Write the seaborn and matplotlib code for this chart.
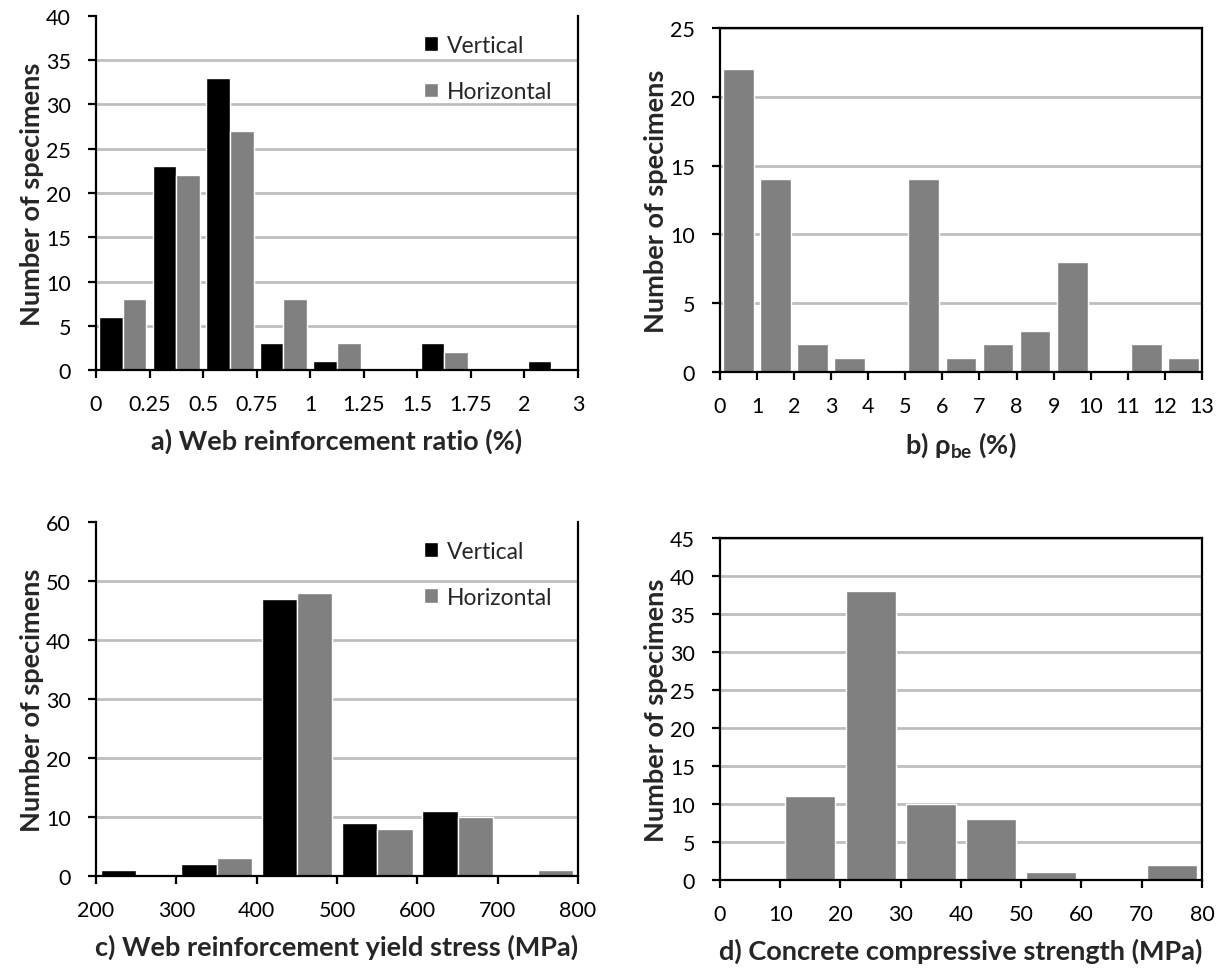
import numpy as np
import pandas as pd
import matplotlib
matplotlib.use("Agg")
import matplotlib.pyplot as plt
import seaborn as sns

# ---- data: specimen counts per bin ----
a_edges = ["0", "0.25", "0.5", "0.75", "1", "1.25", "1.5", "1.75", "2", "3"]
a_vertical = [6, 23, 33, 3, 1, 0, 3, 0, 1]
a_horizontal = [8, 22, 27, 8, 3, 0, 2, 0, 0]

b_edges = [str(v) for v in range(0, 14)]
b_counts = [22, 14, 2, 1, 0, 14, 1, 2, 3, 8, 0, 2, 1]

c_edges = ["200", "300", "400", "500", "600", "700", "800"]
c_vertical = [1, 2, 47, 9, 11, 0]
c_horizontal = [0, 3, 48, 8, 10, 1]

d_edges = ["0", "10", "20", "30", "40", "50", "60", "70", "80"]
d_counts = [0, 11, 38, 10, 8, 1, 0, 2]

series_names = ["Vertical", "Horizontal"]
BLACK = "#000000"
GRAY = "#808080"
GRID = "#BFBFBF"
TICK_FS = 15.5
LABEL_FS = 19.5
LEGEND_FS = 16.5

sns.set_theme(style="ticks")
plt.rcParams["font.family"] = ["Lato", "DejaVu Sans"]
plt.rcParams["mathtext.fontset"] = "custom"
plt.rcParams["mathtext.rm"] = "Lato"
plt.rcParams["mathtext.bf"] = "Lato:bold"


def bin_names(edges):
    return [f"{lo}-{hi}" for lo, hi in zip(edges[:-1], edges[1:])]


def long_frame(edges, vertical, horizontal):
    bins = bin_names(edges)
    return pd.DataFrame({
        "bin": bins * 2,
        "count": list(vertical) + list(horizontal),
        "series": [series_names[0]] * len(bins) + [series_names[1]] * len(bins),
    })


def style_axis(ax, edges, ymax, ystep, boxed, xlabel):
    n = len(edges) - 1
    ax.set_xlim(-0.5, n - 0.5)
    ax.set_xticks(np.arange(n + 1) - 0.5)
    ax.set_xticklabels(edges)
    ax.set_ylim(0, ymax)
    ax.set_yticks(np.arange(0, ymax + 0.1, ystep))
    ax.yaxis.grid(True, color=GRID, linewidth=2)
    ax.xaxis.grid(False)
    ax.set_axisbelow(True)
    if not boxed:
        ax.get_ygridlines()[-1].set_visible(False)
    for side in ["left", "bottom", "right"]:
        ax.spines[side].set_visible(True)
        ax.spines[side].set_color("black")
        ax.spines[side].set_linewidth(1.6)
    ax.spines["top"].set_visible(boxed)
    ax.spines["top"].set_color("black")
    ax.spines["top"].set_linewidth(1.6)
    ax.tick_params(axis="y", direction="out", length=6, width=1.6,
                   labelsize=TICK_FS, pad=12, left=True, right=False, colors="black")
    ax.tick_params(axis="x", direction="out", length=6, width=1.6,
                   labelsize=TICK_FS, pad=11, bottom=True, top=False, colors="black")
    ax.set_ylabel("Number of specimens", fontsize=LABEL_FS, fontweight="bold", labelpad=1.5)
    ax.set_xlabel(xlabel, fontsize=LABEL_FS, fontweight="bold", labelpad=10)


def add_legend(ax):
    handles, labels = ax.get_legend_handles_labels()
    ax.legend(handles, labels, loc="upper right", bbox_to_anchor=(0.99, 1.005),
              frameon=False, fontsize=LEGEND_FS, handlelength=0.62, handleheight=0.62,
              handletextpad=0.4, labelspacing=1.1)


fig = plt.figure(figsize=(12.19, 9.70), dpi=100)
ax_a = fig.add_axes([0.0788, 0.6175, 0.3954, 0.3650])
ax_b = fig.add_axes([0.5906, 0.6155, 0.3954, 0.3545])
ax_c = fig.add_axes([0.0788, 0.0959, 0.3954, 0.3650])
ax_d = fig.add_axes([0.5906, 0.0918, 0.3954, 0.3525])

# a) web reinforcement ratio
sns.barplot(data=long_frame(a_edges, a_vertical, a_horizontal), x="bin", y="count",
            hue="series", hue_order=series_names, palette=[BLACK, GRAY],
            width=0.88, saturation=1, ax=ax_a)
style_axis(ax_a, a_edges, 40, 5, False, "a) Web reinforcement ratio (%)")
add_legend(ax_a)

# b) boundary element reinforcement ratio
sns.barplot(x=bin_names(b_edges), y=b_counts, color=GRAY, width=0.83,
            saturation=1, ax=ax_b)
style_axis(ax_b, b_edges, 25, 5, True, r"b) ρ$_{\mathbf{be}}$ (%)")

# c) web reinforcement yield stress
sns.barplot(data=long_frame(c_edges, c_vertical, c_horizontal), x="bin", y="count",
            hue="series", hue_order=series_names, palette=[BLACK, GRAY],
            width=0.88, saturation=1, ax=ax_c)
style_axis(ax_c, c_edges, 60, 10, False, "c) Web reinforcement yield stress (MPa)")
add_legend(ax_c)

# d) concrete compressive strength
sns.barplot(x=bin_names(d_edges), y=d_counts, color=GRAY, width=0.83,
            saturation=1, ax=ax_d)
style_axis(ax_d, d_edges, 45, 5, True, "d) Concrete compressive strength (MPa)")

fig.savefig("out.png", dpi=100, facecolor="white")
